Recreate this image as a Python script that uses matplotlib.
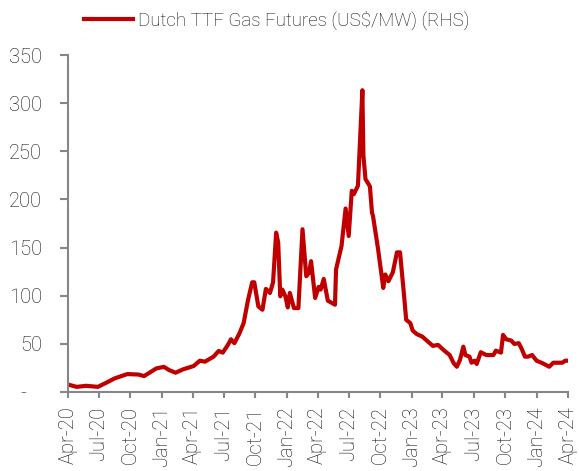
import matplotlib
matplotlib.use("Agg")
import matplotlib.pyplot as plt
import matplotlib.dates as mdates
import pandas as pd

plt.rcParams["font.family"] = ["Roboto", "DejaVu Sans"]
plt.rcParams["font.weight"] = "light"

# --- data ---
dates = [
    "2020-04-01", "2020-04-27", "2020-05-25", "2020-06-28", "2020-07-22",
    "2020-08-16", "2020-09-22", "2020-10-25", "2020-11-10", "2020-12-16",
    "2021-01-07", "2021-01-22", "2021-02-10", "2021-03-04", "2021-04-04",
    "2021-04-22", "2021-05-07", "2021-06-01", "2021-06-16", "2021-06-28",
    "2021-07-13", "2021-07-22", "2021-08-01", "2021-08-16", "2021-08-28",
    "2021-09-10", "2021-09-22", "2021-09-28", "2021-10-10", "2021-10-22",
    "2021-11-01", "2021-11-13", "2021-11-22", "2021-12-01", "2021-12-07",
    "2021-12-13", "2021-12-19", "2021-12-28", "2022-01-04", "2022-01-10",
    "2022-01-22", "2022-02-04", "2022-02-16", "2022-02-27", "2022-03-07",
    "2022-03-13", "2022-03-25", "2022-04-04", "2022-04-10", "2022-04-19",
    "2022-05-01", "2022-05-22", "2022-05-25", "2022-06-10", "2022-06-22",
    "2022-07-01", "2022-07-10", "2022-07-16", "2022-07-28", "2022-08-10",
    "2022-08-13", "2022-08-19", "2022-09-01", "2022-09-07", "2022-09-10",
    "2022-09-25", "2022-10-10", "2022-10-16", "2022-10-25", "2022-11-07",
    "2022-11-19", "2022-11-28", "2022-12-10", "2022-12-16", "2022-12-28",
    "2023-01-04", "2023-01-16", "2023-02-01", "2023-02-15", "2023-03-04",
    "2023-03-19", "2023-04-04", "2023-04-22", "2023-05-04", "2023-05-13",
    "2023-05-22", "2023-06-01", "2023-06-07", "2023-06-19", "2023-06-25",
    "2023-07-04", "2023-07-10", "2023-07-22", "2023-08-07", "2023-08-28",
    "2023-09-04", "2023-09-19", "2023-09-25", "2023-10-04", "2023-10-19",
    "2023-10-28", "2023-11-10", "2023-11-19", "2023-11-28", "2023-12-07",
    "2023-12-19", "2024-01-01", "2024-01-19", "2024-02-07", "2024-02-19",
    "2024-03-16", "2024-03-25", "2024-04-01",
]
ttf_usd = [
    7.7, 5.2, 6.3, 5.2, 9.4,
    14.0, 18.5, 18.0, 16.4, 24.4,
    26.0, 22.7, 19.9, 23.4, 26.9,
    32.4, 31.4, 36.6, 42.5, 40.8,
    48.8, 54.7, 50.6, 61.0, 71.5,
    95.8, 113.9, 113.9, 88.8, 85.4,
    107.0, 102.8, 113.9, 165.5, 155.0,
    99.3, 106.3, 99.3, 87.8, 102.8,
    87.1, 87.1, 169.0, 120.2, 123.7,
    135.8, 97.6, 109.0, 106.3, 117.4,
    94.8, 90.6, 127.2, 151.5, 190.6,
    162.0, 209.0, 205.5, 214.2, 313.5,
    245.6, 221.2, 213.6, 186.4, 182.9,
    148.0, 108.0, 122.0, 115.0, 124.3,
    145.0, 145.0, 99.3, 74.9, 71.5,
    63.7, 60.0, 57.5, 53.0, 47.8,
    48.8, 43.6, 38.3, 29.7, 26.1,
    33.1, 47.0, 38.3, 36.6, 30.3,
    32.4, 29.0, 41.2, 38.3, 38.3,
    42.8, 40.8, 59.2, 54.7, 53.3,
    49.8, 50.6, 44.3, 36.6, 36.6,
    38.3, 32.4, 29.7, 26.1, 30.3,
    30.3, 32.4, 32.4,
]
y_ticks = [0, 50, 100, 150, 200, 250, 300, 350]
y_labels = ["-   ", "50", "100", "150", "200", "250", "300", "350"]
series_label = "Dutch TTF Gas Futures (US$/MW) (RHS)"

x = pd.to_datetime(dates)

fig = plt.figure(figsize=(5.79, 4.71), dpi=100, facecolor="white")
ax = fig.add_axes([0.117, 0.168, 0.8635, 0.715])

ax.plot(x, ttf_usd, color="#C00000", linewidth=3.0, solid_joinstyle="round",
        label=series_label)

ax.set_xlim(pd.Timestamp("2020-04-01"), pd.Timestamp("2024-04-01"))
ax.set_ylim(0, 350)

ax.xaxis.set_major_locator(mdates.MonthLocator(bymonth=[1, 4, 7, 10]))
ax.xaxis.set_major_formatter(mdates.DateFormatter("%b-%y"))
ax.set_yticks(y_ticks)
ax.set_yticklabels(y_labels)

grey = "#868686"
text_c = "#111111"
for side in ("top", "right"):
    ax.spines[side].set_visible(False)
for side in ("left", "bottom"):
    ax.spines[side].set_color(grey)
    ax.spines[side].set_linewidth(1.5)

ax.tick_params(axis="y", direction="out", length=5.5, width=1.5, color=grey,
               labelsize=14.5, labelcolor=text_c, pad=13)
ax.tick_params(axis="x", direction="out", length=4.5, width=1.5, color=grey,
               labelsize=14.5, labelcolor=text_c, pad=6, labelrotation=90)

fig.legend(loc="center", bbox_to_anchor=(0.478, 0.957), frameon=False,
           fontsize=13.5, labelcolor=text_c, handlelength=2.6,
           handletextpad=0.3)

fig.savefig("out.png", dpi=100, facecolor="white")
